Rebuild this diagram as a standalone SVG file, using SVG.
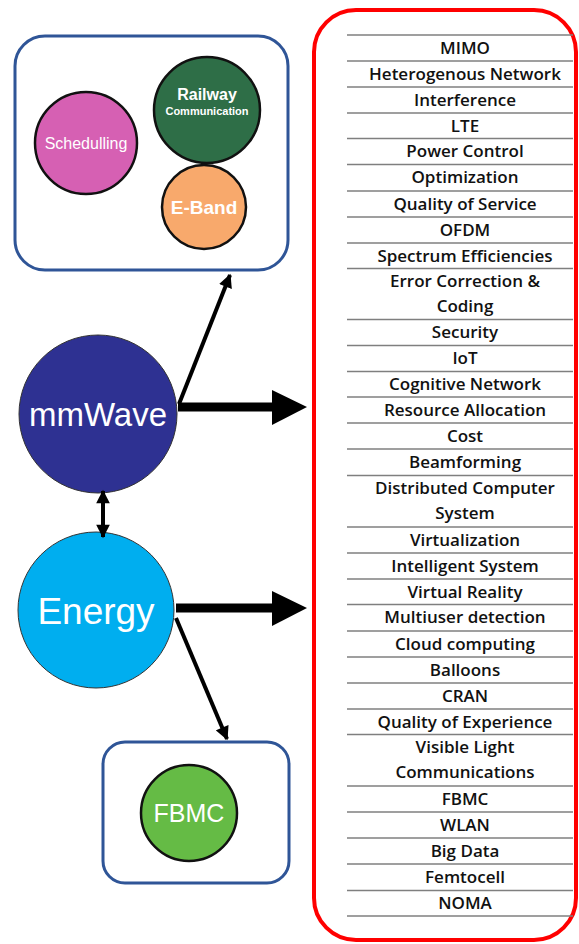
<svg xmlns="http://www.w3.org/2000/svg" width="579" height="944" viewBox="0 0 579 944">
<defs>
<style>
.box{fill:#fff;stroke:#2f5597;stroke-width:3}
.sc{stroke:#111;stroke-width:2.5}
.wt{fill:#fff;font-family:"Liberation Sans",Arial,sans-serif;text-anchor:middle}
.row line{stroke:#7f7f7f;stroke-width:1.5}
.row text{fill:#111;font-family:"Open Sans","Liberation Sans",sans-serif;font-weight:600;font-size:17px;text-anchor:middle}
.thin{stroke:#000;stroke-width:4;fill:none}
.thick{stroke:#000;stroke-width:9;fill:none}
</style>
<marker id="ah" viewBox="0 0 10 10" refX="9" refY="5" markerWidth="3.6" markerHeight="3.4" orient="auto-start-reverse" markerUnits="strokeWidth"><path d="M0,0 L10,5 L0,10 z" fill="#000"/></marker>
</defs>

<g id="red-panel">
<rect x="314" y="10" width="262" height="930" rx="42" fill="#fff" stroke="#ff0000" stroke-width="4"/>
</g>

<g id="topics" class="row">
<line x1="347" y1="35" x2="573" y2="35"/>
<line x1="347" y1="61" x2="573" y2="61"/>
<line x1="347" y1="87" x2="573" y2="87"/>
<line x1="347" y1="113" x2="573" y2="113"/>
<line x1="347" y1="138.5" x2="573" y2="138.5"/>
<line x1="347" y1="164.5" x2="573" y2="164.5"/>
<line x1="347" y1="191" x2="573" y2="191"/>
<line x1="347" y1="217" x2="573" y2="217"/>
<line x1="347" y1="243" x2="573" y2="243"/>
<line x1="347" y1="268.5" x2="573" y2="268.5"/>
<line x1="347" y1="319.5" x2="573" y2="319.5"/>
<line x1="347" y1="345.5" x2="573" y2="345.5"/>
<line x1="347" y1="371.5" x2="573" y2="371.5"/>
<line x1="347" y1="397" x2="573" y2="397"/>
<line x1="347" y1="423" x2="573" y2="423"/>
<line x1="347" y1="449" x2="573" y2="449"/>
<line x1="347" y1="475.5" x2="573" y2="475.5"/>
<line x1="347" y1="527" x2="573" y2="527"/>
<line x1="347" y1="553" x2="573" y2="553"/>
<line x1="347" y1="579" x2="573" y2="579"/>
<line x1="347" y1="604.5" x2="573" y2="604.5"/>
<line x1="347" y1="631" x2="573" y2="631"/>
<line x1="347" y1="657" x2="573" y2="657"/>
<line x1="347" y1="683" x2="573" y2="683"/>
<line x1="347" y1="709" x2="573" y2="709"/>
<line x1="347" y1="734.5" x2="573" y2="734.5"/>
<line x1="347" y1="786" x2="573" y2="786"/>
<line x1="347" y1="812" x2="573" y2="812"/>
<line x1="347" y1="838" x2="573" y2="838"/>
<line x1="347" y1="864" x2="573" y2="864"/>
<line x1="347" y1="890.5" x2="573" y2="890.5"/>
<line x1="347" y1="916" x2="573" y2="916"/>
<text x="465" y="54">MIMO</text>
<text x="465" y="80">Heterogenous Network</text>
<text x="465" y="106">Interference</text>
<text x="465" y="132">LTE</text>
<text x="465" y="157">Power Control</text>
<text x="465" y="183">Optimization</text>
<text x="465" y="210">Quality of Service</text>
<text x="465" y="236">OFDM</text>
<text x="465" y="262">Spectrum Efficiencies</text>
<text x="465" y="287">Error Correction &amp;</text>
<text x="465" y="312">Coding</text>
<text x="465" y="338">Security</text>
<text x="465" y="364">IoT</text>
<text x="465" y="390">Cognitive Network</text>
<text x="465" y="416">Resource Allocation</text>
<text x="465" y="442">Cost</text>
<text x="465" y="468">Beamforming</text>
<text x="465" y="494">Distributed Computer</text>
<text x="465" y="519">System</text>
<text x="465" y="546">Virtualization</text>
<text x="465" y="572">Intelligent System</text>
<text x="465" y="598">Virtual Reality</text>
<text x="465" y="623">Multiuser detection</text>
<text x="465" y="650">Cloud computing</text>
<text x="465" y="676">Balloons</text>
<text x="465" y="702">CRAN</text>
<text x="465" y="728">Quality of Experience</text>
<text x="465" y="753">Visible Light</text>
<text x="465" y="778">Communications</text>
<text x="465" y="805">FBMC</text>
<text x="465" y="831">WLAN</text>
<text x="465" y="857">Big Data</text>
<text x="465" y="883">Femtocell</text>
<text x="465" y="909">NOMA</text>
</g>

<g id="top-box">
<rect class="box" x="15" y="36" width="273" height="234" rx="30"/>
</g>
<g id="schedulling">
<circle class="sc" cx="86" cy="143" r="51" fill="#d660b3"/>
<text class="wt" x="86" y="149" font-size="16">Schedulling</text>
</g>
<g id="railway">
<circle class="sc" cx="207" cy="110" r="53" fill="#2e6e47"/>
<text class="wt" x="207" y="100" font-size="16" font-weight="bold">Railway</text>
<text class="wt" x="207" y="115" font-size="11" font-weight="bold">Communication</text>
</g>
<g id="eband">
<circle class="sc" cx="204" cy="207" r="42" fill="#f8a96c"/>
<text class="wt" x="204" y="214" font-size="19" font-weight="bold">E-Band</text>
</g>

<g id="mmwave">
<circle cx="98" cy="414" r="79" fill="#2e3192" stroke="#333" stroke-width="1"/>
<text class="wt" x="98" y="426" font-size="33">mmWave</text>
</g>
<g id="energy">
<circle cx="96" cy="610" r="78" fill="#00aeef" stroke="#333" stroke-width="1"/>
<text class="wt" x="96" y="624" font-size="37">Energy</text>
</g>

<g id="fbmc-box">
<rect class="box" x="103" y="742" width="186" height="141" rx="22"/>
</g>
<g id="fbmc">
<circle class="sc" cx="189" cy="813" r="48" fill="#65bb45"/>
<text class="wt" x="189" y="822" font-size="25">FBMC</text>
</g>

<g id="connectors">
<line class="thin" x1="179" y1="404" x2="230" y2="275" marker-end="url(#ah)"/>
<line class="thin" x1="103" y1="491" x2="103" y2="537" marker-start="url(#ah)" marker-end="url(#ah)"/>
<line class="thin" x1="176" y1="618" x2="227" y2="739" marker-end="url(#ah)"/>
<line class="thick" x1="178" y1="407" x2="274" y2="407"/>
<path d="M272,390 L307,407 L272,425 z" fill="#000"/>
<line class="thick" x1="176" y1="608" x2="274" y2="608"/>
<path d="M272,591 L307,608 L272,626 z" fill="#000"/>
</g>
</svg>
